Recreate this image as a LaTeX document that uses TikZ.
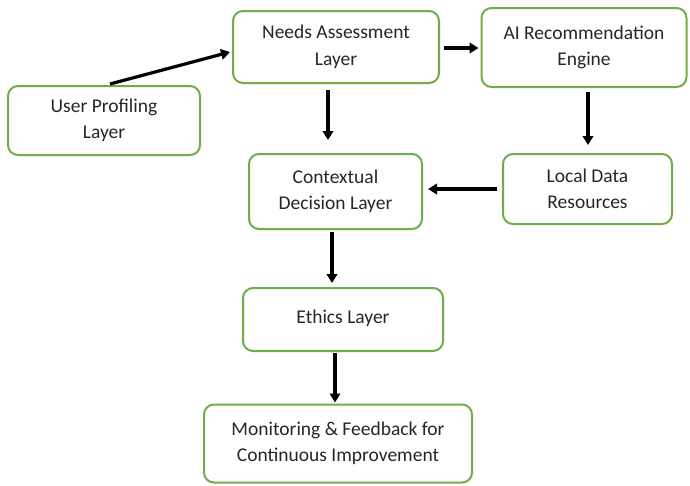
\documentclass[tikz,border=0pt]{standalone}
\usepackage{fontspec}
\setmainfont{Carlito}
\usetikzlibrary{arrows.meta}
\definecolor{boxgreen}{HTML}{70AD47}
\definecolor{txt}{HTML}{262626}
\begin{document}
\begin{tikzpicture}[x=1pt,y=-1pt,
  layer/.style={draw=boxgreen, line width=2pt, rounded corners=10pt, fill=white,
    align=center, text=txt, inner sep=0pt,
    font=\fontsize{19.5}{26.5}\selectfont},
  arr/.style={draw=black, line width=3.2pt, -{Triangle[length=9pt,width=10.5pt]}}]
\useasboundingbox (0,0) rectangle (690,485);
\fill[white] (0,0) rectangle (690,485);

% layers of the framework
\node[layer, minimum width=192pt, minimum height=69pt] (up)  at (104,120.5) {User Profiling\\Layer};
\node[layer, minimum width=206pt, minimum height=72pt] (na)  at (336,47)    {Needs Assessment\\Layer};
\node[layer, minimum width=205pt, minimum height=79pt] (ai)  at (584,47.5)  {AI Recommendation\\Engine};
\node[layer, minimum width=169pt, minimum height=70pt] (ld)  at (587.5,189) {Local Data\\Resources};
\node[layer, minimum width=173pt, minimum height=75pt] (cd)  at (335.5,191.5) {Contextual\\Decision Layer};
\node[layer, minimum width=200pt, minimum height=63pt] (eth) at (343,319.5) {\raisebox{6pt}{Ethics Layer}};
\node[layer, minimum width=268pt, minimum height=78pt] (mon) at (338,443.5) {Monitoring \& Feedback for\\Continuous Improvement};

% flow between layers
\draw[arr] ([xshift=6pt,yshift=1pt]up.north) -- ([xshift=-2pt,yshift=-5pt]na.west);
\draw[arr, shorten <=4pt, shorten >=2pt] ([yshift=-1pt]na.east) -- ([yshift=-1pt]na.east -| ai.west);
\draw[arr, shorten <=6pt, shorten >=13pt] ([xshift=-8pt]na.south) -- ([xshift=-8pt]na.south |- cd.north);
\draw[arr, shorten <=4pt, shorten >=8pt] ([xshift=4pt]ai.south) -- ([xshift=4pt]ai.south |- ld.north);
\draw[arr, shorten <=5pt, shorten >=5pt] (ld.west) -- (ld.west -| cd.east);
\draw[arr, shorten <=2pt, shorten >=4pt] ([xshift=-3.5pt]cd.south) -- ([xshift=-3.5pt]cd.south |- eth.north);
\draw[arr, shorten <=1pt, shorten >=1pt] ([xshift=-8pt]eth.south) -- ([xshift=-8pt]eth.south |- mon.north);
\end{tikzpicture}
\end{document}
